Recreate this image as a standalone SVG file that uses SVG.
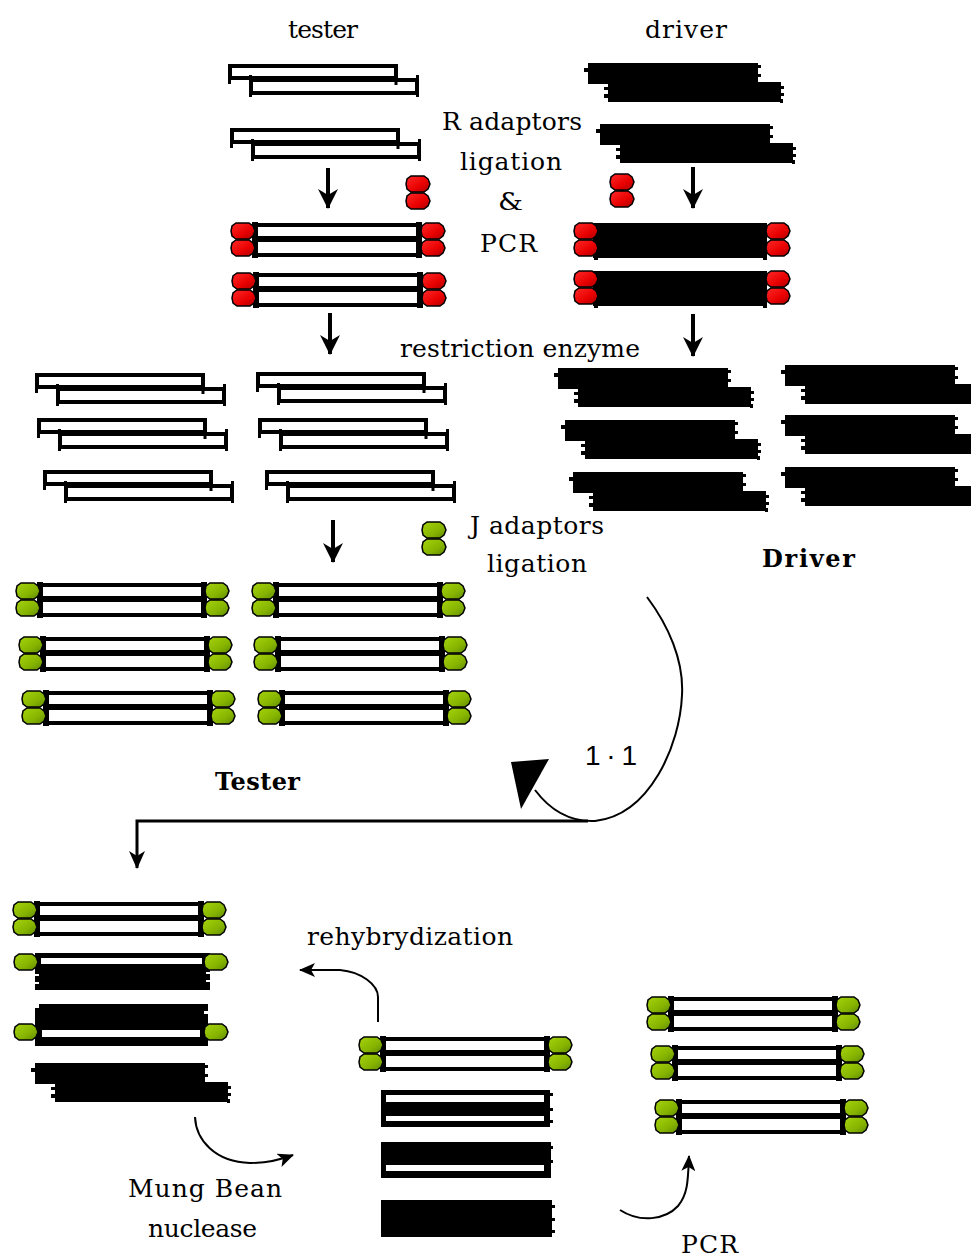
<svg xmlns="http://www.w3.org/2000/svg" xmlns:xlink="http://www.w3.org/1999/xlink" width="971" height="1258" viewBox="0 0 971 1258">
  <style>
    .lbl { font-family: "DejaVu Serif", "Liberation Serif", serif; font-size: 25px; fill: #000; }
    .bold { font-family: "DejaVu Serif", "Liberation Serif", serif; font-size: 24px; font-weight: bold; fill: #000; }
    .ratio { font-family: "Liberation Sans", Arial, sans-serif; font-size: 28px; fill: #000; }
    .st { fill: #fff; stroke: #000; stroke-width: 4; }
    .red { fill: url(#gRed); stroke: #000; stroke-width: 1.5; }
    .grn { fill: url(#gGrn); stroke: #000; stroke-width: 1.5; }
    .shaft { fill: none; stroke: #000; stroke-width: 4; }
    .thin { fill: none; stroke: #000; stroke-width: 2; }
  </style>
  <defs>
    <linearGradient id="gRed" x1="0" y1="0" x2="1" y2="1">
      <stop offset="0" stop-color="#ff2a2a"/>
      <stop offset="0.6" stop-color="#e80000"/>
      <stop offset="1" stop-color="#a80000"/>
    </linearGradient>
    <linearGradient id="gGrn" x1="0" y1="0" x2="1" y2="1">
      <stop offset="0" stop-color="#a6d40c"/>
      <stop offset="0.6" stop-color="#86b400"/>
      <stop offset="1" stop-color="#5f8a00"/>
    </linearGradient>
    <!-- arrowheads -->
    <marker id="mBig" viewBox="0 0 20 20" refX="19" refY="10" markerWidth="20" markerHeight="20" markerUnits="userSpaceOnUse" orient="auto">
      <path d="M0,0 L20,10 L0,20 L6,10 Z" fill="#000"/>
    </marker>
    <marker id="mMid" viewBox="0 0 18 16" refX="17" refY="8" markerWidth="18" markerHeight="16" markerUnits="userSpaceOnUse" orient="auto">
      <path d="M0,0 L18,8 L0,16 L5,8 Z" fill="#000"/>
    </marker>
    <marker id="mSmall" viewBox="0 0 16 14" refX="15" refY="7" markerWidth="16" markerHeight="14" markerUnits="userSpaceOnUse" orient="auto">
      <path d="M0,0 L16,7 L0,14 L4,7 Z" fill="#000"/>
    </marker>
    <!-- adaptor blob -->
    <path id="blob" d="M5,0 H18 L22,3 L24,8 L22,13 L18,16 H5 L1,13 L0,8 L1,3 Z"/>
    <g id="rp"><use href="#blob" class="red"/><use href="#blob" y="17" class="red"/></g>
    <g id="gp"><use href="#blob" class="grn"/><use href="#blob" y="17" class="grn"/></g>
    <!-- tester fragment: two offset single strands -->
    <g id="tp">
      <rect x="2" y="2" width="166" height="12" class="st"/>
      <rect x="23" y="16" width="166" height="13" class="st"/>
      <path d="M1.5,0 V20 M168,12 V21 M22.5,11 V33 M189.5,11 V33" stroke="#000" stroke-width="3" fill="none"/>
    </g>
    <!-- driver fragment: solid black, frayed ends -->
    <g id="dr">
      <path d="M0,0 H170 V19 H193 V39 H20 V21 H0 Z" fill="#000"/>
      <rect x="-4" y="5" width="5" height="4" fill="#000"/>
      <rect x="169" y="2" width="4" height="3" fill="#000"/>
      <rect x="169" y="11" width="4" height="3" fill="#000"/>
      <rect x="16" y="24" width="5" height="3" fill="#000"/>
      <rect x="16" y="31" width="5" height="4" fill="#000"/>
      <rect x="192" y="23" width="4" height="3" fill="#000"/>
      <rect x="192" y="30" width="4" height="3" fill="#000"/>
      <rect x="192" y="36" width="3" height="4" fill="#000"/>
    </g>
    <!-- open double strand, ready for adaptors -->
    <g id="ds">
      <rect x="2" y="2" width="166" height="13" class="st"/>
      <rect x="2" y="17" width="166" height="15" class="st"/>
      <rect x="0" y="-1" width="6" height="36" fill="#000"/>
      <rect x="164" y="-1" width="6" height="36" fill="#000"/>
    </g>
    <!-- solid driver double strand -->
    <g id="dsb">
      <rect x="0" y="0" width="174" height="35" fill="#000"/>
      <rect x="1" y="35" width="4" height="2" fill="#000"/>
      <rect x="170" y="35" width="4" height="2" fill="#000"/>
    </g>
  </defs>

  <rect width="971" height="1258" fill="#fff"/>

  <!-- labels -->
  <g id="labels">
    <text class="lbl" x="288" y="38" textLength="70" lengthAdjust="spacing">tester</text>
    <text class="lbl" x="645" y="38" textLength="82" lengthAdjust="spacing">driver</text>
    <text class="lbl" x="442" y="130" textLength="140" lengthAdjust="spacing">R adaptors</text>
    <text class="lbl" x="460" y="170" textLength="102" lengthAdjust="spacing">ligation</text>
    <text class="lbl" x="498" y="210" textLength="25" lengthAdjust="spacingAndGlyphs">&amp;</text>
    <text class="lbl" x="480" y="252" textLength="57" lengthAdjust="spacing">PCR</text>
    <text class="lbl" x="400" y="357" textLength="240" lengthAdjust="spacing">restriction enzyme</text>
    <text class="lbl" x="470" y="534" textLength="134" lengthAdjust="spacing">J adaptors</text>
    <text class="lbl" x="487" y="572" textLength="100" lengthAdjust="spacing">ligation</text>
    <text class="bold" x="762" y="567" textLength="93" lengthAdjust="spacing">Driver</text>
    <text class="bold" x="215" y="790" textLength="85" lengthAdjust="spacing">Tester</text>
    <text class="ratio" x="585" y="765" textLength="52" lengthAdjust="spacing">1 · 1</text>
    <text class="lbl" x="307" y="945" textLength="206" lengthAdjust="spacing">rehybrydization</text>
    <text class="lbl" x="128" y="1197" textLength="154" lengthAdjust="spacing">Mung Bean</text>
    <text class="lbl" x="148" y="1237" textLength="109" lengthAdjust="spacing">nuclease</text>
    <text class="lbl" x="681" y="1253" textLength="57" lengthAdjust="spacing">PCR</text>
  </g>

  <!-- starting material -->
  <g id="tester-1"><use href="#tp" x="228" y="64"/></g>
  <g id="tester-2"><use href="#tp" x="230" y="128"/></g>
  <g id="driver-1"><use href="#dr" x="588" y="63"/></g>
  <g id="driver-2"><use href="#dr" x="600" y="124"/></g>

  <!-- free R adaptors -->
  <g id="r-adaptor-tester"><use href="#rp" x="406" y="176"/></g>
  <g id="r-adaptor-driver">
    <path d="M622,190 V194" stroke="#000" stroke-width="3"/>
    <use href="#rp" x="610" y="174"/>
  </g>

  <!-- R-adaptor ligated products -->
  <g id="tester-r1">
    <use href="#ds" x="252" y="223"/>
    <use href="#rp" x="231" y="223"/>
    <use href="#rp" x="421" y="223"/>
  </g>
  <g id="tester-r2">
    <use href="#ds" x="253" y="273"/>
    <use href="#rp" x="232" y="273"/>
    <use href="#rp" x="422" y="273"/>
  </g>
  <g id="driver-r1">
    <use href="#dsb" x="593" y="223"/>
    <use href="#rp" x="574" y="223"/>
    <use href="#rp" x="766" y="223"/>
  </g>
  <g id="driver-r2">
    <use href="#dsb" x="593" y="271"/>
    <use href="#rp" x="574" y="271"/>
    <use href="#rp" x="766" y="271"/>
  </g>

  <!-- digested tester fragments -->
  <g id="tester-cut-1"><use href="#tp" x="35" y="373"/></g>
  <g id="tester-cut-2"><use href="#tp" x="256" y="372"/></g>
  <g id="tester-cut-3"><use href="#tp" x="37" y="418"/></g>
  <g id="tester-cut-4"><use href="#tp" x="258" y="418"/></g>
  <g id="tester-cut-5"><use href="#tp" x="43" y="470"/></g>
  <g id="tester-cut-6"><use href="#tp" x="265" y="470"/></g>

  <!-- digested driver fragments -->
  <g id="driver-cut-1"><use href="#dr" x="558" y="368"/></g>
  <g id="driver-cut-2"><use href="#dr" x="785" y="365"/></g>
  <g id="driver-cut-3"><use href="#dr" x="565" y="420"/></g>
  <g id="driver-cut-4"><use href="#dr" x="785" y="415"/></g>
  <g id="driver-cut-5"><use href="#dr" x="573" y="472"/></g>
  <g id="driver-cut-6"><use href="#dr" x="785" y="467"/></g>

  <!-- free J adaptor -->
  <g id="j-adaptor"><use href="#gp" x="422" y="522"/></g>

  <!-- J-adaptor ligated tester -->
  <g id="tester-j1"><use href="#ds" x="37" y="583"/><use href="#gp" x="16" y="583"/><use href="#gp" x="205" y="583"/></g>
  <g id="tester-j2"><use href="#ds" x="273" y="583"/><use href="#gp" x="252" y="583"/><use href="#gp" x="441" y="583"/></g>
  <g id="tester-j3"><use href="#ds" x="40" y="637"/><use href="#gp" x="19" y="637"/><use href="#gp" x="208" y="637"/></g>
  <g id="tester-j4"><use href="#ds" x="275" y="637"/><use href="#gp" x="254" y="637"/><use href="#gp" x="443" y="637"/></g>
  <g id="tester-j5"><use href="#ds" x="43" y="691"/><use href="#gp" x="22" y="691"/><use href="#gp" x="211" y="691"/></g>
  <g id="tester-j6"><use href="#ds" x="279" y="691"/><use href="#gp" x="258" y="691"/><use href="#gp" x="447" y="691"/></g>

  <!-- hybridisation products -->
  <g id="hyb-tt"><use href="#ds" x="34" y="902"/><use href="#gp" x="13" y="902"/><use href="#gp" x="202" y="902"/></g>
  <g id="hyb-td">
    <rect x="35" y="953" width="175" height="37" fill="#000"/>
    <rect x="41" y="958" width="161" height="6" fill="#fff"/>
    <rect x="35" y="974" width="4" height="2" fill="#fff"/>
    <rect x="35" y="982" width="4" height="2" fill="#fff"/>
    <rect x="206" y="972" width="4" height="2" fill="#fff"/>
    <rect x="206" y="980" width="4" height="2" fill="#fff"/>
    <use href="#blob" x="14" y="954" class="grn"/>
    <use href="#blob" x="204" y="954" class="grn"/>
  </g>
  <g id="hyb-dt">
    <rect x="35" y="1004" width="173" height="42" fill="#000"/>
    <rect x="35" y="1004" width="4" height="4" fill="#fff"/>
    <rect x="204" y="1011" width="4" height="3" fill="#fff"/>
    <rect x="42" y="1030" width="158" height="7" fill="#fff"/>
    <use href="#blob" x="14" y="1024" class="grn"/>
    <use href="#blob" x="204" y="1024" class="grn"/>
  </g>
  <g id="hyb-dd"><use href="#dr" x="35" y="1063"/></g>

  <!-- after nuclease digestion -->
  <g id="mb-1"><use href="#ds" x="380" y="1037"/><use href="#gp" x="359" y="1037"/><use href="#gp" x="548" y="1037"/></g>
  <g id="mb-2">
    <rect x="381" y="1090" width="169" height="37" fill="#000"/>
    <rect x="386" y="1095" width="158" height="7" fill="#fff"/>
    <rect x="386" y="1116" width="158" height="5" fill="#fff"/>
    <rect x="549" y="1093" width="4" height="3" fill="#000"/>
    <rect x="549" y="1108" width="4" height="3" fill="#000"/>
    <rect x="549" y="1120" width="4" height="3" fill="#000"/>
  </g>
  <g id="mb-3">
    <rect x="381" y="1142" width="170" height="36" fill="#000"/>
    <rect x="386" y="1165" width="158" height="6" fill="#fff"/>
    <rect x="550" y="1146" width="3" height="3" fill="#000"/>
    <rect x="550" y="1160" width="3" height="3" fill="#000"/>
  </g>
  <g id="mb-4">
    <rect x="381" y="1200" width="171" height="37" fill="#000"/>
    <rect x="551" y="1205" width="4" height="3" fill="#000"/>
    <rect x="551" y="1218" width="4" height="3" fill="#000"/>
    <rect x="551" y="1230" width="4" height="3" fill="#000"/>
  </g>

  <!-- PCR products -->
  <g id="pcr-1"><use href="#ds" x="668" y="997"/><use href="#gp" x="647" y="997"/><use href="#gp" x="836" y="997"/></g>
  <g id="pcr-2"><use href="#ds" x="672" y="1046"/><use href="#gp" x="651" y="1046"/><use href="#gp" x="840" y="1046"/></g>
  <g id="pcr-3"><use href="#ds" x="676" y="1100"/><use href="#gp" x="655" y="1100"/><use href="#gp" x="844" y="1100"/></g>

  <!-- connectors -->
  <g id="connectors">
    <path class="shaft" d="M328,168 V208" marker-end="url(#mBig)"/>
    <path class="shaft" d="M693,167 V208" marker-end="url(#mBig)"/>
    <path class="shaft" d="M330,313 V354" marker-end="url(#mBig)"/>
    <path class="shaft" d="M693,314 V356" marker-end="url(#mBig)"/>
    <path class="shaft" d="M333,520 V562" marker-end="url(#mBig)"/>
    <path fill="none" stroke="#000" stroke-width="3" d="M588,821 H137 V868" marker-end="url(#mMid)"/>
    <path class="thin" d="M647,597 C668,625 684,660 682,695 C680,745 650,815 595,821 C570,822 550,810 535,790"/>
    <polygon points="511,762 549,759 521,809" fill="#000"/>
    <path class="thin" d="M378,1022 V997 C378,985 362,972 340,970 H300" marker-end="url(#mSmall)"/>
    <path class="thin" d="M195,1117 C196,1140 215,1162 250,1163 C265,1163 280,1160 293,1155" marker-end="url(#mSmall)"/>
    <path class="thin" d="M620,1210 C640,1223 665,1220 678,1206 C688,1194 688,1180 689,1156" marker-end="url(#mSmall)"/>
  </g>
</svg>
